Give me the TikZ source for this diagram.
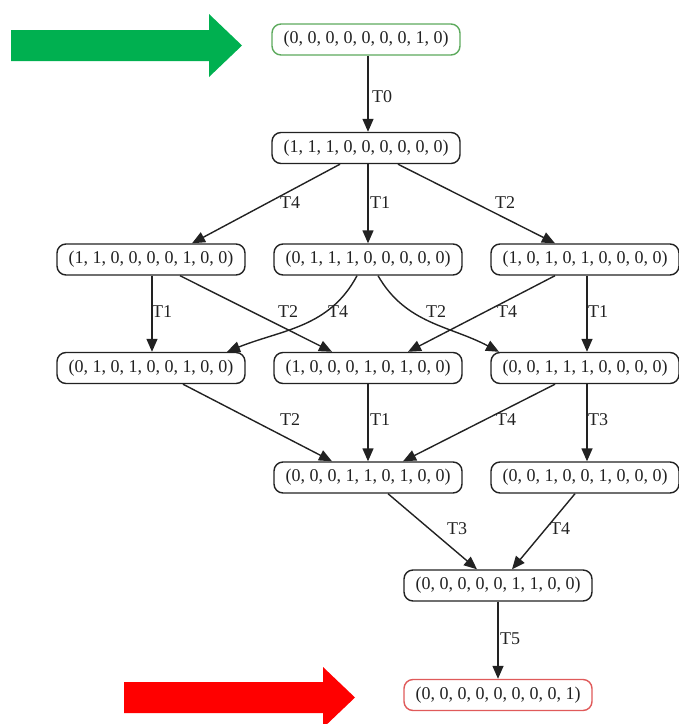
\documentclass[tikz,border=0pt]{standalone}
\usepackage{fontspec}
\setmainfont{Liberation Serif}
\usetikzlibrary{arrows.meta}
\definecolor{arrowgreen}{HTML}{00B050}
\definecolor{arrowred}{HTML}{FF0000}
\definecolor{startborder}{HTML}{5DAA5D}
\definecolor{endborder}{HTML}{E05A5A}
\definecolor{ink}{HTML}{222222}
\begin{document}
\begin{tikzpicture}[x=1pt,y=1pt,
  state/.style={draw=ink, line width=1.4pt, rounded corners=9pt, minimum width=188pt,
    minimum height=31pt, inner sep=0pt, font=\fontsize{18}{20}\selectfont, text=ink, fill=white},
  lbl/.style={font=\fontsize{18}{20}\selectfont, text=ink, inner sep=0pt},
  edge/.style={draw=ink, line width=1.4pt, -{Triangle[length=13pt,width=11pt]}}
]
\useasboundingbox (0,0) rectangle (679,-724);

% big arrows
\fill[arrowgreen] (11,-30) -- (209,-30) -- (209,-14) -- (242,-45.5) -- (209,-77) -- (209,-61) -- (11,-61) -- cycle;
\fill[arrowred] (124,-682) -- (323,-682) -- (323,-667) -- (355,-697.5) -- (323,-728) -- (323,-713) -- (124,-713) -- cycle;

% states
\node[state, draw=startborder] (n0) at (366,-39.5) {(0, 0, 0, 0, 0, 0, 0, 1, 0)};
\node[state] (n1) at (366,-148) {(1, 1, 1, 0, 0, 0, 0, 0, 0)};
\node[state] (a) at (151,-259.5) {(1, 1, 0, 0, 0, 0, 1, 0, 0)};
\node[state] (b) at (368,-259.5) {(0, 1, 1, 1, 0, 0, 0, 0, 0)};
\node[state] (c) at (585,-259.5) {(1, 0, 1, 0, 1, 0, 0, 0, 0)};
\node[state] (d) at (151,-368) {(0, 1, 0, 1, 0, 0, 1, 0, 0)};
\node[state] (e) at (368,-368) {(1, 0, 0, 0, 1, 0, 1, 0, 0)};
\node[state] (f) at (585,-368) {(0, 0, 1, 1, 1, 0, 0, 0, 0)};
\node[state] (g) at (368,-477.5) {(0, 0, 0, 1, 1, 0, 1, 0, 0)};
\node[state] (h) at (585,-477.5) {(0, 0, 1, 0, 0, 1, 0, 0, 0)};
\node[state] (i) at (498,-585.5) {(0, 0, 0, 0, 0, 1, 1, 0, 0)};
\node[state, draw=endborder] (j) at (498,-695) {(0, 0, 0, 0, 0, 0, 0, 0, 1)};

% edges
\draw[edge] ([xshift=2pt]n0.south) -- ([xshift=2pt]n1.north);
\draw[edge] ([xshift=-26pt]n1.south) -- ([xshift=41pt]a.north);
\draw[edge] ([xshift=2pt]n1.south) -- (b.north);
\draw[edge] ([xshift=32pt]n1.south) -- ([xshift=-30pt]c.north);

\draw[edge] ([xshift=1pt]a.south) -- ([xshift=1pt]d.north);
\draw[edge] ([xshift=29pt]a.south) -- ([xshift=-36pt]e.north);
\draw[edge] ([xshift=-11pt]b.south) to[out=-118,in=22] ([xshift=76pt]d.north);
\draw[edge] ([xshift=10pt]b.south) to[out=-60,in=152] ([xshift=-86pt]f.north);
\draw[edge] ([xshift=-30pt]c.south) -- ([xshift=40pt]e.north);
\draw[edge] ([xshift=2pt]c.south) -- ([xshift=2pt]f.north);

\draw[edge] ([xshift=32pt]d.south) -- ([xshift=-36pt]g.north);
\draw[edge] (e.south) -- (g.north);
\draw[edge] ([xshift=-30pt]f.south) -- ([xshift=35pt]g.north);
\draw[edge] ([xshift=2pt]f.south) -- ([xshift=2pt]h.north);

\draw[edge] ([xshift=20pt]g.south) -- ([xshift=-21pt]i.north);
\draw[edge] ([xshift=-10pt]h.south) -- ([xshift=14pt]i.north);
\draw[edge] (i.south) -- (j.north);

% edge labels
\node[lbl] (l0) at (382,-97) {T0};
\node[lbl] (l1) at (290,-203) {T4};
\node[lbl] (l2) at (380,-203) {T1};
\node[lbl] (l3) at (505,-203) {T2};
\node[lbl] (l4) at (162,-312) {T1};
\node[lbl] (l5) at (288,-312) {T2};
\node[lbl] (l6) at (338,-312) {T4};
\node[lbl] (l7) at (436,-312) {T2};
\node[lbl] (l8) at (507,-312) {T4};
\node[lbl] (l9) at (598,-312) {T1};
\node[lbl] (l10) at (290,-420) {T2};
\node[lbl] (l11) at (380,-420) {T1};
\node[lbl] (l12) at (506,-420) {T4};
\node[lbl] (l13) at (598,-420) {T3};
\node[lbl] (l14) at (457,-529) {T3};
\node[lbl] (l15) at (560,-529) {T4};
\node[lbl] (l16) at (510,-639) {T5};
\end{tikzpicture}
\end{document}
